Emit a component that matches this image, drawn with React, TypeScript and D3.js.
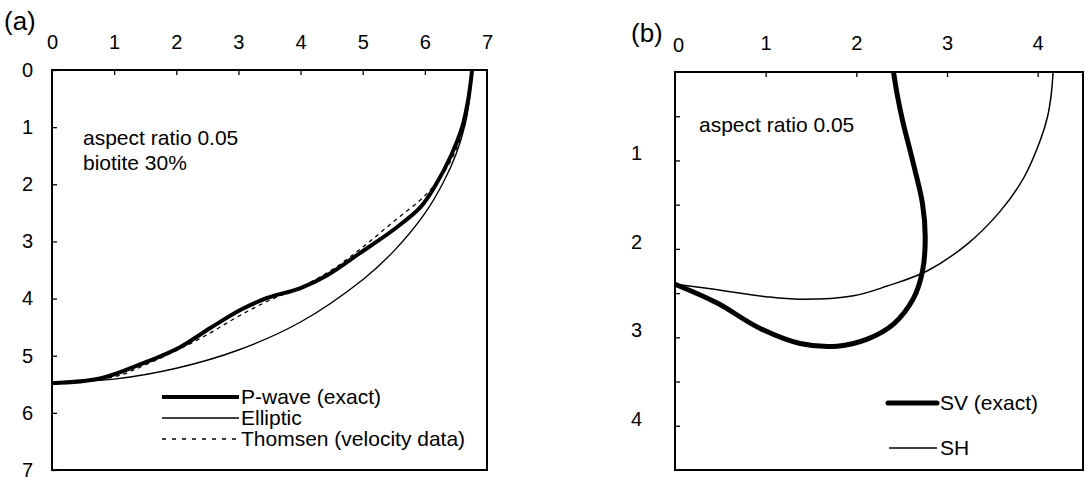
import React, { useRef, useEffect } from "react";
import * as d3 from "d3";

// Panel (a): P-wave, biotite 30%, aspect ratio 0.05
const pWaveExact: [number, number][] = [
  [0, 5.48], [0.77, 5.4], [1.47, 5.13], [2.06, 4.85], [2.54, 4.52], [3.03, 4.2],
  [3.46, 3.99], [3.99, 3.82], [4.43, 3.59], [4.96, 3.2], [5.49, 2.8], [5.93, 2.4],
  [6.18, 2.0], [6.42, 1.5], [6.6, 1.0], [6.7, 0.5], [6.76, 0],
];
const elliptic: [number, number][] = [
  [0, 5.47], [1, 5.41], [2, 5.22], [3, 4.9], [4, 4.41], [5, 3.67], [5.5, 3.17],
  [6, 2.51], [6.3, 1.96], [6.5, 1.48], [6.65, 0.94], [6.72, 0.5], [6.76, 0],
];
const thomsen: [number, number][] = [
  [0, 5.47], [1, 5.37], [1.5, 5.16], [2, 4.91], [2.5, 4.63], [3, 4.31], [3.5, 4.03],
  [4, 3.8], [4.5, 3.5], [5, 3.1], [5.5, 2.65], [6, 2.2], [6.3, 1.8], [6.5, 1.4],
  [6.65, 0.9], [6.72, 0.4], [6.76, 0],
];

// Panel (b): shear waves
const svExact: [number, number][] = [
  [2.41, 0], [2.45, 0.25], [2.51, 0.55], [2.62, 1.0], [2.73, 1.49], [2.76, 1.87],
  [2.73, 2.25], [2.63, 2.56], [2.41, 2.85], [2.12, 3.02], [1.79, 3.1], [1.38, 3.07],
  [0.94, 2.9], [0.46, 2.61], [0, 2.4],
];
const shWave: [number, number][] = [
  [0, 2.4], [0.39, 2.45], [1.0, 2.54], [1.38, 2.57], [1.97, 2.53], [2.34, 2.42],
  [2.78, 2.25], [3.23, 1.94], [3.59, 1.57], [3.85, 1.19], [4.03, 0.77], [4.11, 0.5],
  [4.15, 0.25], [4.17, 0],
];

const ticksA = [0, 1, 2, 3, 4, 5, 6, 7];
const ticksBx = [0, 1, 2, 3, 4];
const ticksBy = [0.5, 1, 1.5, 2, 2.5, 3, 3.5, 4];
const labelsBy = [1, 2, 3, 4];

const FONT = "Arial, 'Liberation Sans', sans-serif";
const TICK_SIZE = 20;
const TEXT_SIZE = 21;

const App = () => {
  const svgRef = useRef<SVGSVGElement>(null);

  useEffect(() => {
    const svg = d3.select(svgRef.current);
    svg.selectAll("*").remove();

    const line = d3.line<[number, number]>().curve(d3.curveCatmullRom.alpha(0.5));

    const styleAxis = (g: any) => {
      g.attr("font-size", null).attr("font-family", null);
      g.select(".domain").remove();
      g.selectAll("line").attr("stroke", "#000").attr("stroke-width", 1.3);
      g.selectAll("text").attr("fill", "#000").attr("font-size", TICK_SIZE).attr("font-family", FONT);
    };
    const addText = (g: any, x: number, y: number, size: number, t: string) =>
      g.append("text").attr("x", x).attr("y", y).attr("font-size", size).attr("font-family", FONT).attr("fill", "#000").text(t);

    // ---------- panel (a) ----------
    const xa = d3.scaleLinear().domain([0, 7]).range([52, 487]);
    const ya = d3.scaleLinear().domain([0, 7]).range([70, 470]);
    const ga = svg.append("g");

    ga.append("g")
      .attr("transform", `translate(0,${ya(0)})`)
      .call(d3.axisTop(xa).tickValues(ticksA).tickSizeInner(-5).tickSizeOuter(0).tickPadding(21).tickFormat(d3.format("d")))
      .call(styleAxis)
      .call((g: any) => g.selectAll(".tick").filter((d: any) => d === 7 || d === 0).select("line").remove());

    ga.append("g")
      .attr("transform", `translate(${xa(0)},0)`)
      .call(d3.axisLeft(ya).tickValues(ticksA).tickSizeInner(-5).tickSizeOuter(0).tickPadding(19).tickFormat(d3.format("d")))
      .call(styleAxis);

    ga.append("rect")
      .attr("x", xa(0)).attr("y", ya(0))
      .attr("width", xa(7) - xa(0)).attr("height", ya(7) - ya(0))
      .attr("fill", "none").attr("stroke", "#000").attr("stroke-width", 2);

    const lineA = line.x(d => xa(d[0])).y(d => ya(d[1]));
    ga.append("path").attr("d", lineA(elliptic)).attr("fill", "none").attr("stroke", "#000").attr("stroke-width", 1.4);
    ga.append("path").attr("d", lineA(thomsen)).attr("fill", "none").attr("stroke", "#000").attr("stroke-width", 1.3).attr("stroke-dasharray", "4,4");
    ga.append("path").attr("d", lineA(pWaveExact)).attr("fill", "none").attr("stroke", "#000").attr("stroke-width", 4);

    addText(ga, 4, 30, 26, "(a)");
    addText(ga, 83, 145, TEXT_SIZE, "aspect ratio 0.05");
    addText(ga, 83, 170, TEXT_SIZE, "biotite 30%");

    const legA = [
      { label: "P-wave (exact)", w: 4, dash: null, y: 397 },
      { label: "Elliptic", w: 1.4, dash: null, y: 418 },
      { label: "Thomsen (velocity data)", w: 1.3, dash: "4,6", y: 439 },
    ];
    legA.forEach(l => {
      ga.append("line").attr("x1", 162).attr("x2", 239).attr("y1", l.y).attr("y2", l.y)
        .attr("stroke", "#000").attr("stroke-width", l.w).attr("stroke-dasharray", l.dash);
      addText(ga, 241, l.y + 7, TEXT_SIZE, l.label);
    });

    // ---------- panel (b) ----------
    const xb = d3.scaleLinear().domain([0, 4.5]).range([675, 1083]);
    const yb = d3.scaleLinear().domain([0, 4.5]).range([72, 470]);
    const gb = svg.append("g");

    gb.append("g")
      .attr("transform", `translate(0,${yb(0)})`)
      .call(d3.axisTop(xb).tickValues(ticksBx).tickSizeInner(-5).tickSizeOuter(0).tickPadding(22).tickFormat(d3.format("d")))
      .call(styleAxis)
      .call((g: any) => {
        const t0 = g.selectAll(".tick").filter((d: any) => d === 0);
        t0.select("line").remove();
        t0.select("text").attr("x", 3).attr("y", -20);
      });

    gb.append("g")
      .attr("transform", `translate(${xb(0)},0)`)
      .call(d3.axisLeft(yb).tickValues(ticksBy).tickSizeInner(-5).tickSizeOuter(0).tickPadding(33)
        .tickFormat((d: any) => (labelsBy.includes(d) ? d3.format("d")(d) : "")))
      .call(styleAxis)
      .call((g: any) => g.selectAll("text").attr("y", -7));

    gb.append("rect")
      .attr("x", xb(0)).attr("y", yb(0))
      .attr("width", xb(4.5) - xb(0)).attr("height", yb(4.5) - yb(0))
      .attr("fill", "none").attr("stroke", "#000").attr("stroke-width", 2);

    const lineB = line.x(d => xb(d[0])).y(d => yb(d[1]));
    gb.append("path").attr("d", lineB(shWave)).attr("fill", "none").attr("stroke", "#000").attr("stroke-width", 1.5);
    gb.append("path").attr("d", lineB(svExact)).attr("fill", "none").attr("stroke", "#000").attr("stroke-width", 5);

    addText(gb, 631, 42, 26, "(b)");
    addText(gb, 699, 132, TEXT_SIZE, "aspect ratio 0.05");

    const legB = [
      { label: "SV (exact)", w: 5, y: 403, x1: 888 },
      { label: "SH", w: 1.4, y: 448, x1: 889 },
    ];
    legB.forEach(l => {
      gb.append("line").attr("x1", l.x1).attr("x2", 937).attr("y1", l.y).attr("y2", l.y)
        .attr("stroke", "#000").attr("stroke-width", l.w).attr("stroke-linecap", l.w > 3 ? "round" : "butt");
      addText(gb, 940, l.y + 7, TEXT_SIZE, l.label);
    });
  }, []);

  return (
    <div style={{ position: "absolute", left: 0, top: 0, background: "#fff" }}>
      <svg ref={svgRef} width={1086} height={480} style={{ display: "block" }} />
    </div>
  );
};

export default App;
